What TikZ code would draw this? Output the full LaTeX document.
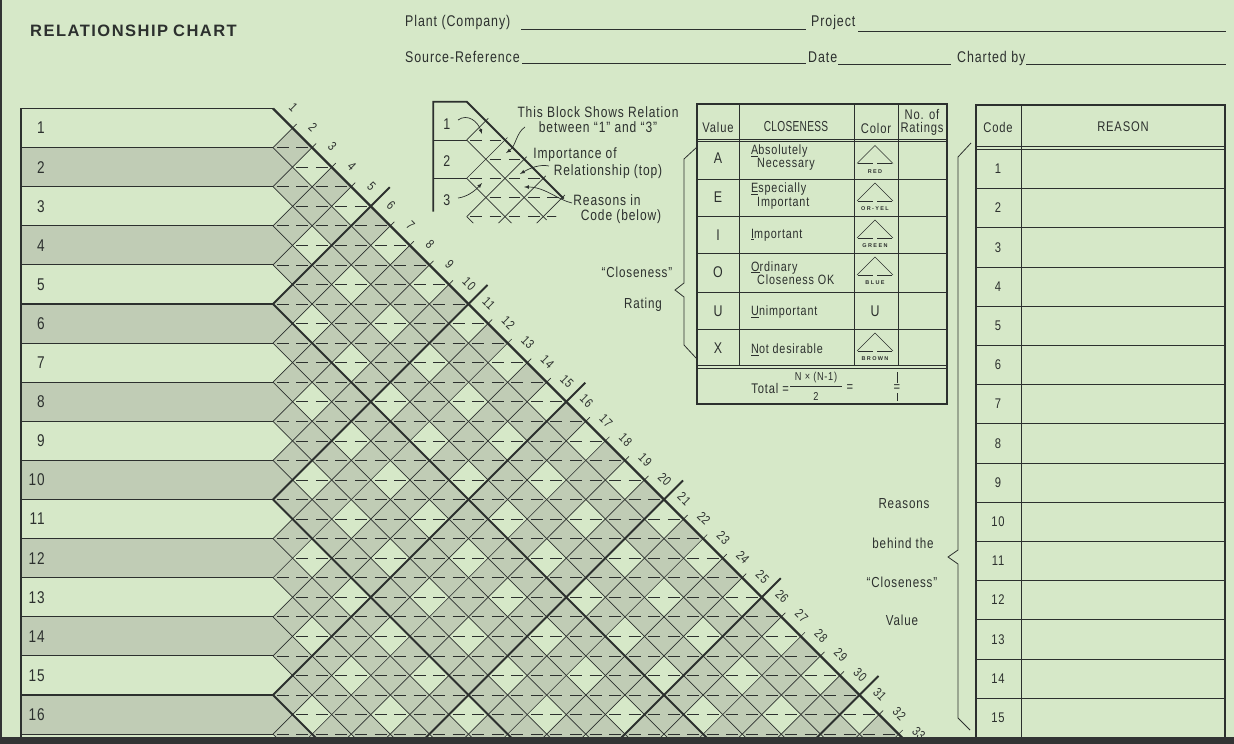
\documentclass[tikz,border=0pt]{standalone}
\usepackage{fontspec}
\setmainfont{Liberation Sans}[FakeStretch=0.8,LetterSpace=6]
\newfontfamily\titlefont{Liberation Sans}[LetterSpace=9]
\newfontfamily\tintfont{Liberation Sans}[LetterSpace=25]
\newfontfamily\narrowfont{Liberation Sans}[FakeStretch=0.7,LetterSpace=2]
\usetikzlibrary{arrows,positioning,calc}
\definecolor{paper}{RGB}{214,232,200}
\definecolor{stripe}{RGB}{192,204,181}
\definecolor{ink}{RGB}{44,48,46}
\definecolor{scan}{RGB}{50,52,52}
\def\rowh{39.1}    % row height of the chart
\def\hh{19.55}     % half a row
\def\chartx{273}   % where the rows meet the diamonds
\def\charty{108.5} % top of the rows
\def\blkx{466.7}   % the small explaining block
\def\blky{101.7}
\def\blkh{38.3}
\def\blkhh{19.15}

\begin{document}
\begin{tikzpicture}[x=1pt,y=-1pt,% pixel grid, y runs down
		every node/.style={inner sep=0pt,text=ink},
		rowline/.style={draw=ink,line width=0.9pt},
		heavy/.style={draw=ink,line width=1.8pt},
		gridline/.style={draw=ink,line width=0.65pt},
		halfline/.style={draw=ink,line width=0.7pt,dash pattern=on 12pt off 7.55pt,dash phase=15.78pt},
		halfsmall/.style={draw=ink,line width=0.7pt,dash pattern=on 11.7pt off 7.45pt,dash phase=15.4pt},
		frame/.style={draw=ink,line width=1.3pt},
		cell/.style={draw=ink,line width=0.8pt},
		rownum/.style={anchor=east,font=\fontsize{17}{17}\selectfont},
		tilted/.style={rotate=-45,font=\fontsize{13}{13}\selectfont},
		label/.style={font=\fontsize{15.5}{15.5}\selectfont},
		small/.style={font=\fontsize{15}{15}\selectfont},
		side/.style={font=\fontsize{14.5}{14.5}\selectfont},
		head/.style={font=\fontsize{14}{13}\selectfont,align=center},
		celltext/.style={font=\fontsize{13.5}{12}\selectfont,align=left,anchor=west},
		note/.style={->,>=latex,draw=ink,line width=0.7pt}
	]
	\fill[paper] (0,0) rectangle (1234,744);
	\useasboundingbox (0,0) rectangle (1234,744);

	% title and the blanks
	\node[anchor=west,font=\titlefont\fontsize{16.5}{16.5}\bfseries\selectfont] (title) at (30,31) {RELATIONSHIP\hspace{5pt}CHART};
	\node[label,anchor=west] (plant) at (405,22) {Plant (Company)};
	\node[label,anchor=west] (project) at (811,22) {Project};
	\node[label,anchor=west] (source) at (405,57) {Source-Reference};
	\node[label,anchor=west] (date) at (808,57) {Date};
	\node[label,anchor=west] (charted) at (957,58) {Charted by};
	\draw[cell] (521,29.5) -- (806,29.5);
	\draw[cell] (858,31) -- (1226,31);
	\draw[cell] (522,63.5) -- (806,63.5);
	\draw[cell] (838,64) -- (951,64);
	\draw[cell] (1026,64) -- (1226,64);

	% the chart: shaded field, rows, light diamonds
	\fill[fill=stripe] (\chartx,\charty) -- ++(660,660) -- (\chartx,770) -- cycle;
	\foreach \i in {1,...,17}{
		\pgfmathsetmacro\ya{\charty+(\i-1)*\rowh}
		\pgfmathsetmacro\yb{\charty+\i*\rowh}
		\pgfmathsetmacro\ym{\charty+(\i-0.5)*\rowh}
		\ifodd\i\def\rowcol{paper}\else\def\rowcol{stripe}\fi
		\fill[fill=\rowcol] (21,\ya) -- (\chartx,\ya) -- (\chartx+\hh,\ym) -- (\chartx,\yb) -- (21,\yb) -- cycle;
	}
	\foreach \i in {1,3,...,31}{
		\foreach \k in {2,4,...,32}{
			\pgfmathsetmacro\cx{\chartx+\k*\hh}
			\pgfmathsetmacro\cy{\charty+(2*\i+\k-1)*\hh}
			\fill[fill=paper] (\cx,\cy-\hh) -- (\cx+\hh,\cy) -- (\cx,\cy+\hh) -- (\cx-\hh,\cy) -- cycle;
		}
	}
	% dashed split of every diamond
	\foreach \m in {2,...,33}{
		\pgfmathsetmacro\yy{\charty+\m*\hh}
		\pgfmathsetmacro\xl{\chartx+mod(\m,2)*\hh}
		\pgfmathsetmacro\xr{\chartx+\m*\hh}
		\draw[halfline] (\xl,\yy) -- (\xr,\yy);
	}
	% diagonals, every fifth one heavy
	\foreach \k in {1,...,17}{
		\pgfmathsetmacro\yy{\charty+\k*\rowh}
		\pgfmathtruncatemacro\five{mod(\k,5)}
		\ifnum\five=0\def\dstyle{heavy}\else\def\dstyle{gridline}\fi
		\draw[\dstyle] (\chartx,\yy) -- ++(660,660);
	}
	\foreach \k in {1,...,34}{
		\pgfmathsetmacro\yy{\charty+\k*\rowh}
		\pgfmathsetmacro\tpos{\k*\hh}
		\pgfmathtruncatemacro\five{mod(\k,5)}
		\ifnum\five=0\def\dstyle{heavy}\def\tk{19}\else\def\dstyle{gridline}\def\tk{4}\fi
		\draw[\dstyle] (\chartx,\yy) -- (\chartx+\tpos+\tk,\charty+\tpos-\tk);
	}
	\draw[heavy,line width=2.2pt] (\chartx,\charty) -- ++(660,660);
	\foreach \k in {1,...,16}{
		\pgfmathsetmacro\yy{\charty+\k*\rowh}
		\pgfmathtruncatemacro\five{mod(\k,5)}
		\ifnum\five=0\def\dstyle{heavy}\else\def\dstyle{rowline}\fi
		\draw[\dstyle] (21,\yy) -- (\chartx,\yy);
	}
	\draw[heavy] (21,744) -- (21,\charty) -- (\chartx,\charty);
	\foreach \i in {1,...,16}
		\node[rownum] (row\i) at (45,{\charty+(\i-0.5)*\rowh}) {\i};
	\foreach \k in {1,...,33}{
		\pgfmathsetmacro\tpos{(\k-0.5)*\hh}
		\node[tilted] (col\k) at (\chartx+\tpos+10.5,\charty+\tpos-10.5) {\k};
	}

	% small block showing how to read it
	\begin{scope}
		\clip (\blkx,97) -- (572,202) -- (549,223) -- (470,223) -- (\blkx,219) -- cycle;
		\foreach \m in {2,...,6}{
			\pgfmathsetmacro\yy{\blky+\m*\blkhh}
			\pgfmathsetmacro\xl{\blkx+mod(\m,2)*\blkhh}
			\pgfmathsetmacro\xr{\blkx+\m*\blkhh}
			\draw[halfsmall] (\xl,\yy) -- (\xr,\yy);
		}
		\foreach \k in {1,...,3}
			\draw[gridline] (\blkx,\blky+\k*\blkh) -- ++(80,80);
		\foreach \k in {1,...,5}{
			\pgfmathsetmacro\tpos{\k*\blkhh}
			\draw[gridline] (\blkx,\blky+\k*\blkh) -- (\blkx+\tpos+3,\blky+\tpos-3);
		}
	\end{scope}
	\draw[heavy] (433.3,211.7) -- (433.3,\blky) -- (\blkx,\blky) -- ++(97,97);
	\draw[rowline] (433.3,\blky+\blkh) -- (\blkx,\blky+\blkh);
	\draw[rowline] (433.3,\blky+2*\blkh) -- (\blkx,\blky+2*\blkh);
	\node[label] (b1) at (446.7,124) {1};
	\node[label] (b2) at (446.7,161) {2};
	\node[label] (b3) at (446.7,200) {3};
	\node[small] (shows) at (598,111.7) {This Block Shows Relation};
	\node[small] (between) at (598,126.7) {between “1” and “3”};
	\node[small] (imp) at (575,155) {Importance of};
	\node[small] (rel) at (608,171.7) {Relationship (top)};
	\node[small] (reas) at (607,200) {Reasons in};
	\node[small] (code) at (621,216.7) {Code (below)};
	\draw[note] (458,120) .. controls (468,113) and (478,122) .. (482,134);
	\draw[note] (525,127) .. controls (516,133) and (516,146) .. (506,153);
	\draw[note] (549,166) .. controls (540,164) and (530,168) .. (520,174);
	\draw[note] (458,198) .. controls (466,197) and (474,192) .. (482,183);
	\draw[note] (572,203) .. controls (558,200) and (545,187) .. (524,187);

	% closeness table
	\draw[frame] (697,104) rectangle (947,404);
	\foreach \xx in {739,854,898}
		\draw[cell] (\xx,104) -- (\xx,365);
	\foreach \yy in {139.3,141.7,179,216,253,292,329,365,368}
		\draw[cell] (697,\yy) -- (947,\yy);
	\node[head] (hval) at (718,127) {Value};
	\node[head,font=\narrowfont\fontsize{14.5}{14.5}\selectfont] (hclose) at (796,127) {CLOSENESS};
	\node[head] (hcol) at (876,128) {Color};
	\node[head] (hnum) at (922,122) {No. of\\Ratings};
	\foreach \yy/\v in {158.5/A,197/E,235/I,272/O,311/U,348/X}
		\node[label] (val\v) at (718,\yy) {\v};
	\node[celltext] (txtA) at (751,157.5) {\underline{A}bsolutely\\\hspace*{6pt}Necessary};
	\node[celltext] (txtE) at (751,196) {\underline{E}specially\\\hspace*{6pt}Important};
	\node[celltext] (txtI) at (751,235) {\underline{I}mportant};
	\node[celltext] (txtO) at (751,273) {\underline{O}rdinary\\\hspace*{6pt}Closeness OK};
	\node[celltext] (txtU) at (751,312) {\underline{U}nimportant};
	\node[celltext] (txtX) at (751,350) {\underline{N}ot desirable};
	\foreach \ty/\tint in {141.5/RED,179/OR-YEL,216/GREEN,253/BLUE,329/BROWN}{
		\draw[gridline] (857,\ty+22) -- (875,\ty+4) -- (893,\ty+22);
		\draw[gridline] (858,\ty+22) -- (873,\ty+22) (877,\ty+22) -- (892,\ty+22);
		\node[font=\tintfont\fontsize{5.5}{5.5}\bfseries\selectfont] at (875,\ty+30) {\tint};
	}
	\node[label] (colU) at (875,311) {U};
	\node[head,anchor=east] (total) at (789,388) {Total =};
	\node[font=\fontsize{11.5}{11.5}\selectfont] (numer) at (816,378) {N × (N-1)};
	\node[font=\fontsize{11.5}{11.5}\selectfont] (denom) at (816,396.5) {2};
	\draw[cell] (790,386.5) -- (842,386.5);
	\node[head] (eqa) at (850,388) {=};
	\node[head] (eqb) at (897,388) {=};
	\draw[gridline] (897,372) -- (897,383);
	\draw[gridline] (897,393) -- (897,401);
	\draw[cell] (697,147) -- (684,159) -- (684,283) -- (675,290) -- (684,297) -- (684,345) -- (696,358);
	\node[side] (rating1) at (637,272) {“Closeness”};
	\node[side] (rating2) at (643,305) {Rating};

	% reason table
	\draw[frame] (976,105) rectangle (1225,737.3);
	\draw[cell] (1021,105) -- (1021,737.3);
	\draw[cell] (976,146.7) -- (1225,146.7);
	\draw[cell] (976,149.3) -- (1225,149.3);
	\foreach \r in {1,...,14}
		\draw[cell] (976,{149.3+\r*39.2}) -- (1225,{149.3+\r*39.2});
	\node[head] (hcode) at (998,127) {Code};
	\node[head] (hreason) at (1123,127) {REASON};
	\foreach \r in {1,...,15}
		\node[head] (code\r) at (998,{149.3+(\r-0.5)*39.2}) {\r};
	\draw[cell] (971,143) -- (958,157) -- (958,550) -- (948,557) -- (958,564) -- (958,718) -- (970,730);
	\node[side] (why1) at (904,504) {Reasons};
	\node[side] (why2) at (903,543) {behind the};
	\node[side] (why3) at (902,582) {“Closeness”};
	\node[side] (why4) at (902,620) {Value};

	% edge of the scan
	\fill[scan] (0,737) rectangle (1234,744);
	\fill[scan] (0,0) rectangle (2,744);
\end{tikzpicture}
\end{document}
